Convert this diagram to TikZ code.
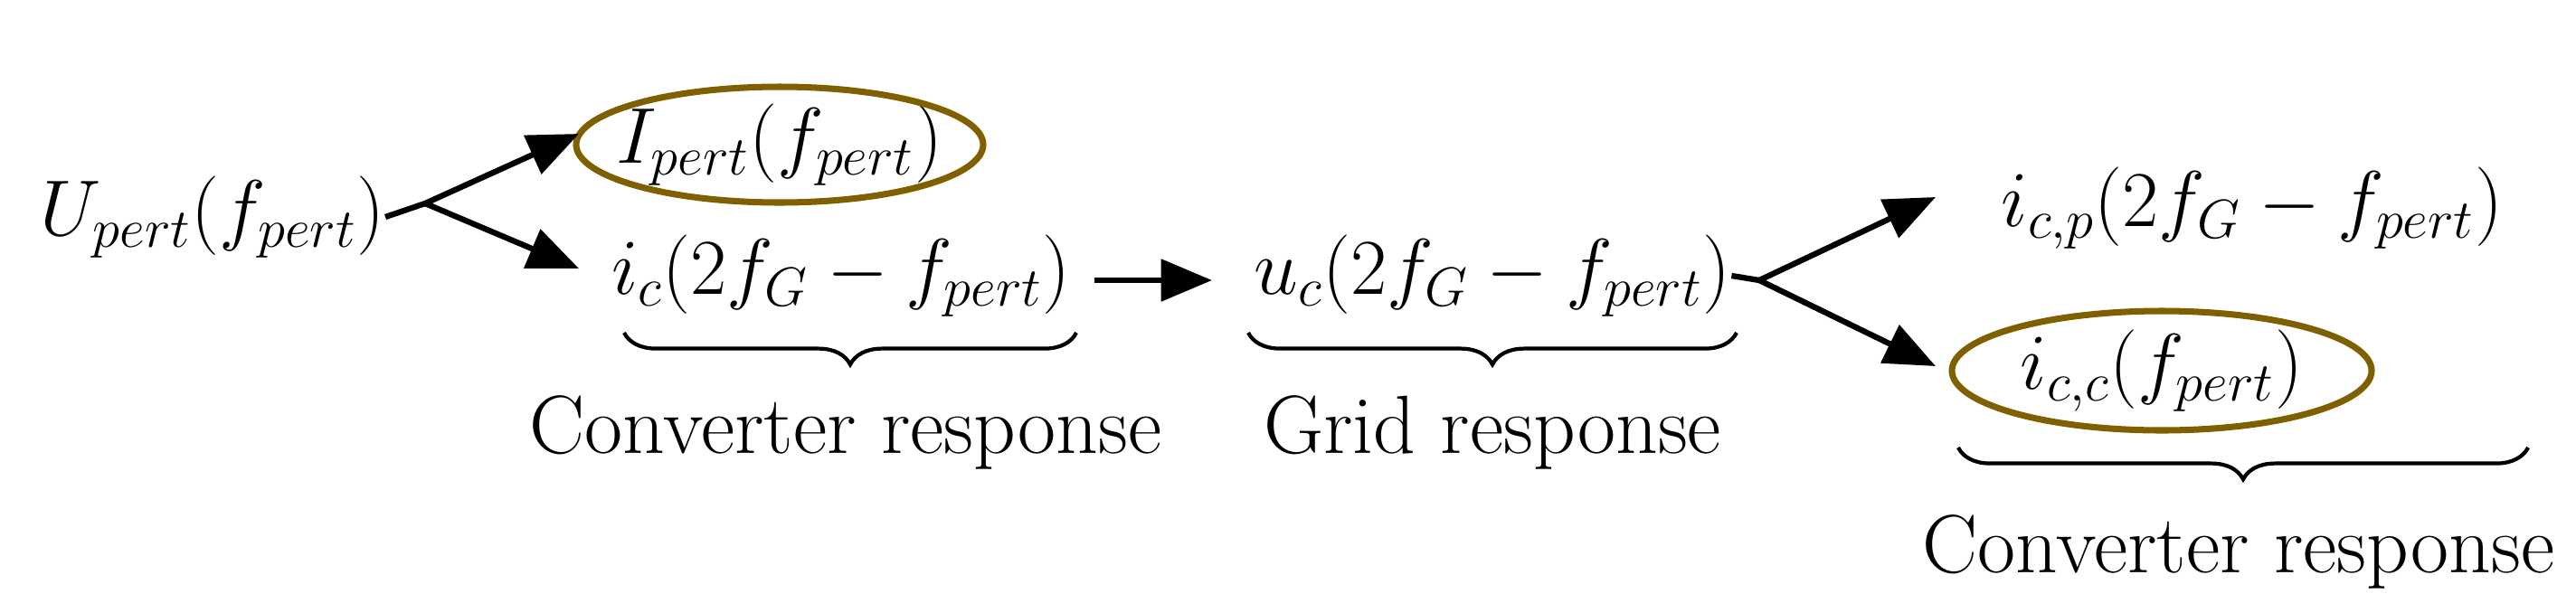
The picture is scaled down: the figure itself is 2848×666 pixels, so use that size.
\documentclass[tikz,border=0pt]{standalone}
\usetikzlibrary{arrows.meta,decorations.pathreplacing}
\definecolor{gold}{RGB}{127,96,0}
\begin{document}
\begin{tikzpicture}[x=0.01cm,y=-0.01cm,
  every node/.style={font=\fontsize{26}{30}\selectfont, inner sep=0pt},
  arr/.style={line width=1.8pt,-{Triangle[length=16pt,width=13pt]}},
  br/.style={decorate,decoration={brace,mirror,amplitude=10pt},line width=1.2pt}]
\useasboundingbox (0,0) rectangle (2848,666);
\node (U) at (235,240) {$U_{pert}(f_{pert})$};
\coordinate (v1) at (470,225);
\node (I) at (862,160) {$I_{pert}(f_{pert})$};
\draw[gold,line width=2pt] (I) ellipse (225 and 64);
\node (ic) at (930,305) {$i_c(2f_G-f_{pert})$};
\node (uc) at (1650,305) {$u_c(2f_G-f_{pert})$};
\coordinate (v2) at (1945,310);
\node (icp) at (2490,230) {$i_{c,p}(2f_G-f_{pert})$};
\node (icc) at (2390,410) {$i_{c,c}(f_{pert})$};
\draw[gold,line width=2pt] (icc) ellipse (232 and 66);
\draw[line width=1.8pt] (U.east) -- (v1);
\draw[arr] (v1) -- (640,148);
\draw[arr] (v1) -- (640,297);
\draw[arr] (1210,310) -- (1340,310);
\draw[line width=1.8pt] (uc.east) -- (v2);
\draw[arr] (v2) -- (2140,218);
\draw[arr] (v2) -- (2140,405);
\draw[br] (690,368) -- (1190,368);
\draw[br] (1380,368) -- (1920,368);
\draw[br] (2165,495) -- (2795,495);
\node (l1) at (935,478) {Converter response};
\node (l2) at (1650,478) {Grid response};
\node (l3) at (2475,610) {Converter response};
\end{tikzpicture}
\end{document}
